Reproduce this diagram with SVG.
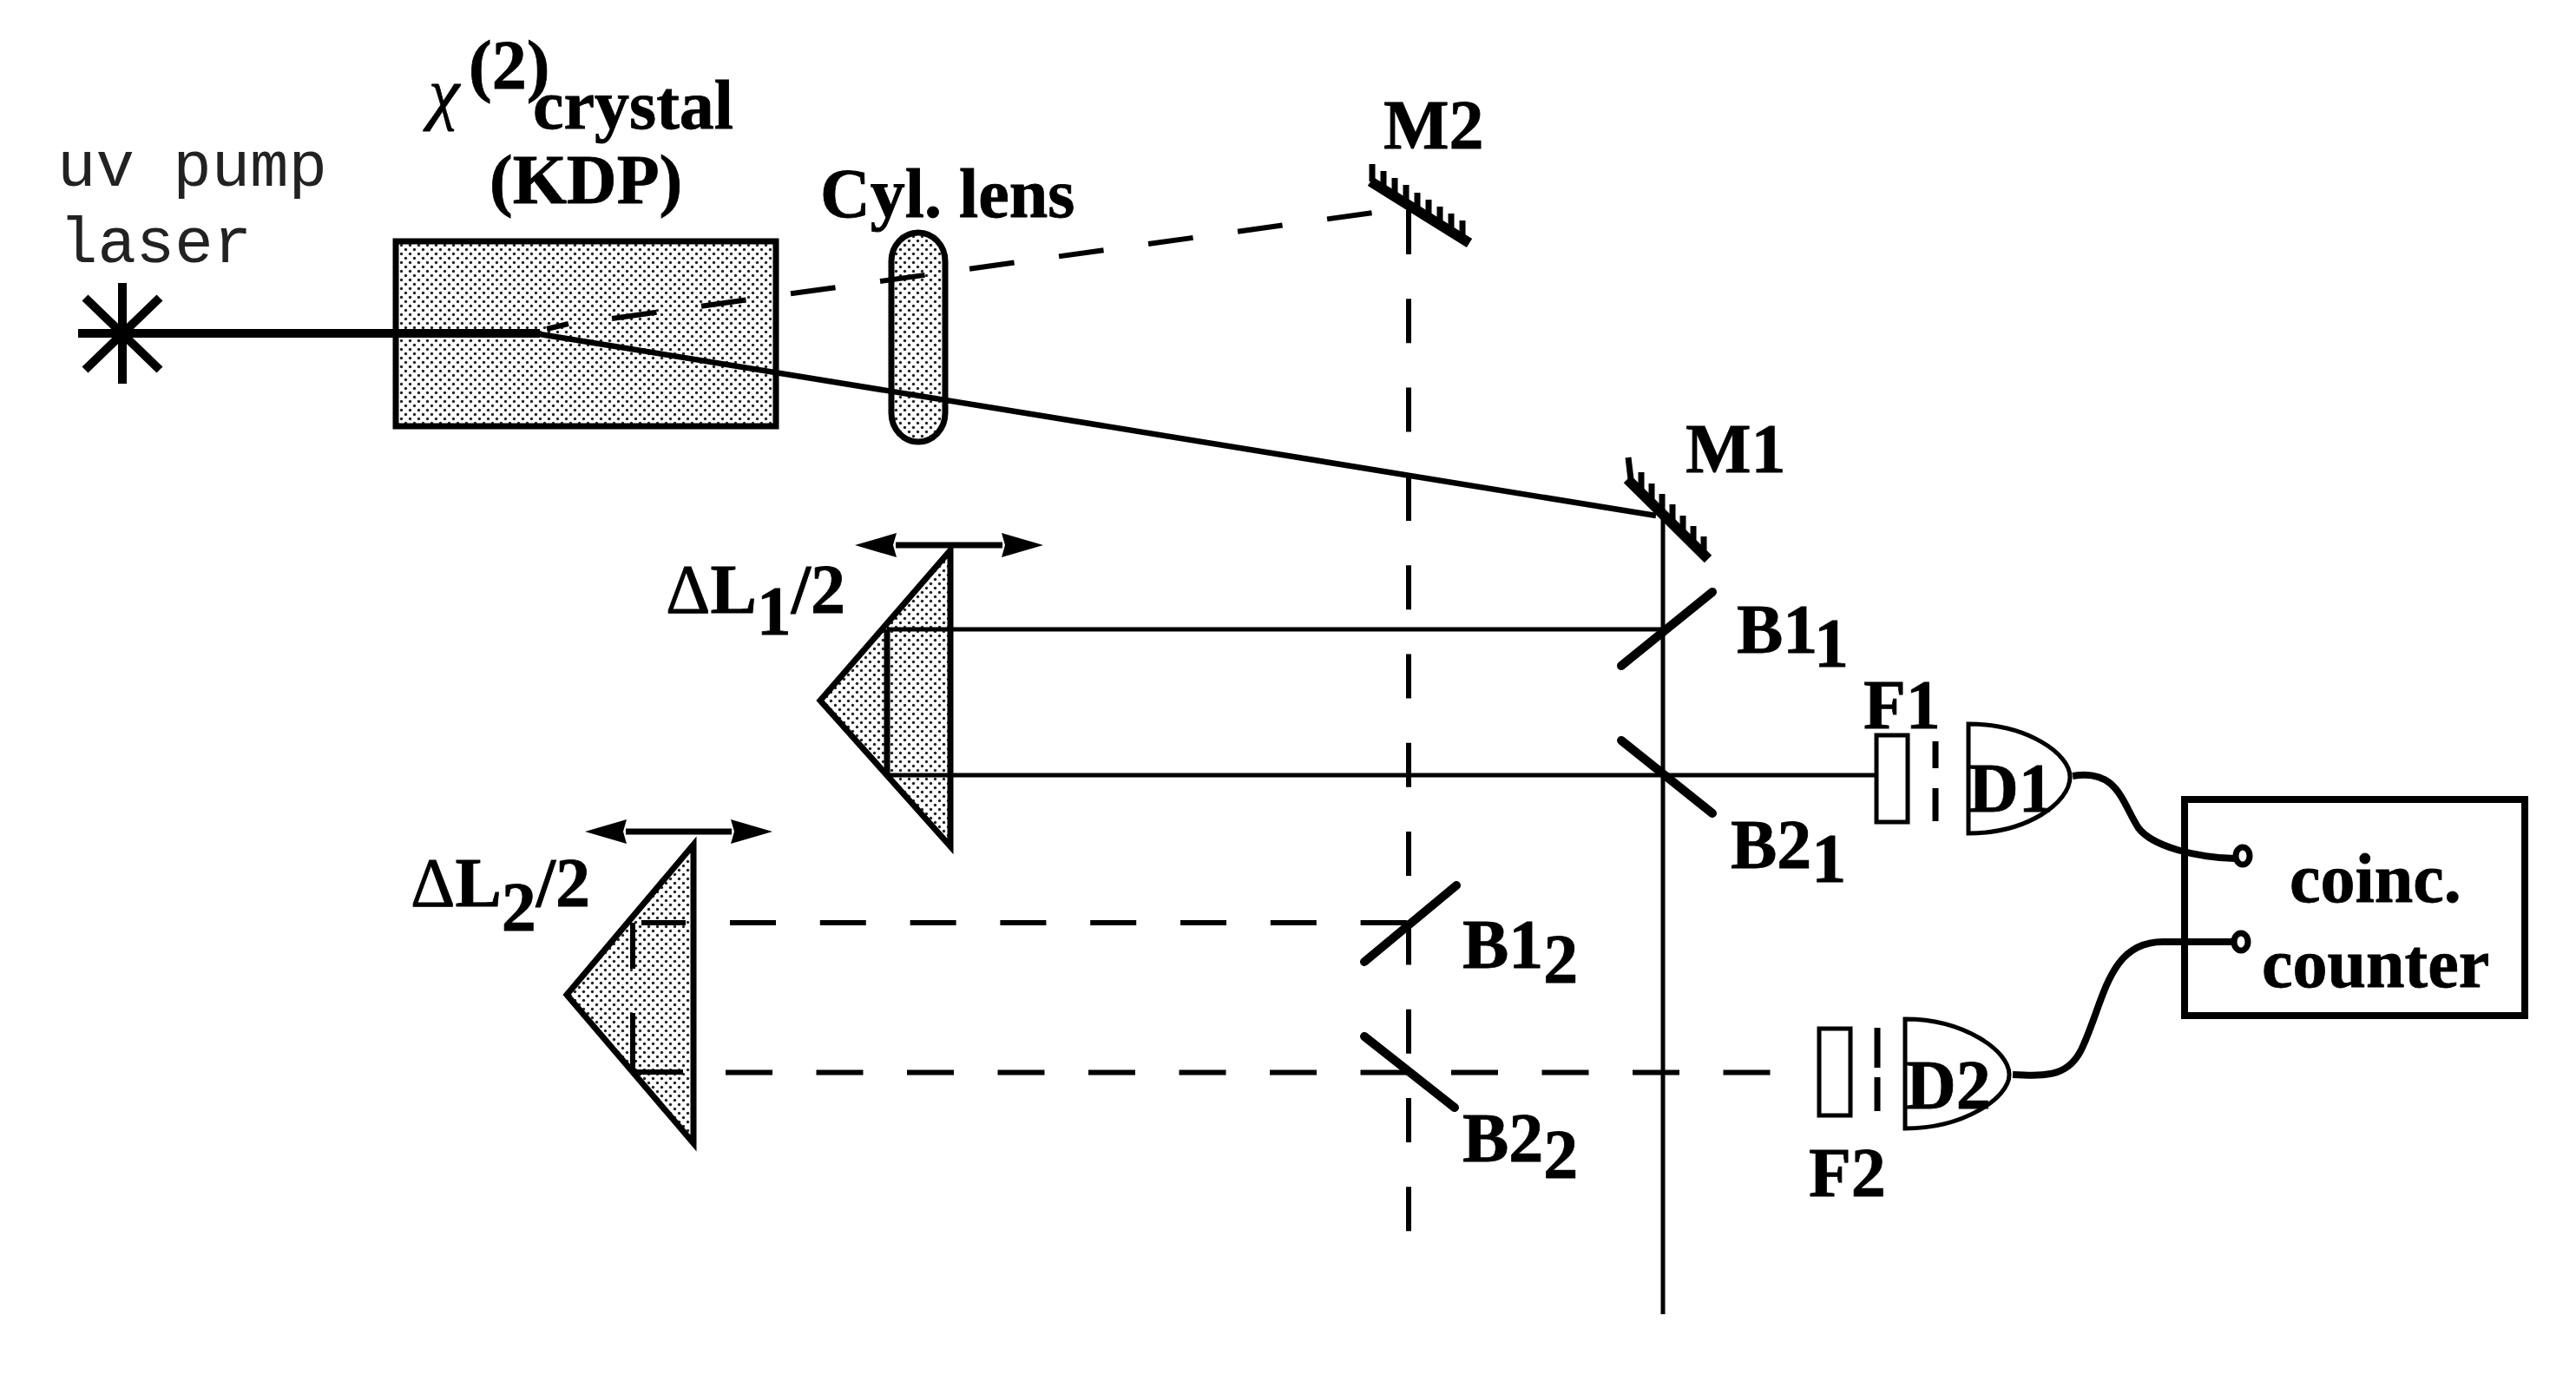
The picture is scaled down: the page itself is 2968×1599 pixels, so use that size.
<svg xmlns="http://www.w3.org/2000/svg" width="2968" height="1599" viewBox="0 0 2968 1599">
<style>
.t{font-family:"Liberation Serif","Times New Roman",serif;font-weight:bold;font-size:80px;fill:#000;stroke:#000;stroke-width:.8}
.g{font-weight:normal}
.m{font-family:"Liberation Mono","Courier New",monospace;font-size:74px;fill:#222}
.s{fill:url(#dots);stroke:#000;stroke-width:7}
.w{fill:#fff;stroke:#000;stroke-width:5}
.bs{stroke:#000;stroke-width:10;stroke-linecap:round;fill:none}
.mir{stroke:#000;stroke-width:12;fill:none}
.tick{stroke:#000;stroke-width:7;fill:none}
.b{stroke:#000;stroke-width:5;fill:none}
.wire{stroke:#000;stroke-width:8;fill:none}
.ring{fill:#fff;stroke:#000;stroke-width:7}
</style>
<defs>
<pattern id="dots" width="10" height="10" patternUnits="userSpaceOnUse">
<rect width="10" height="10" fill="#fff"/>
<circle cx="2.500" cy="2.500" r="1.700" fill="#222"/>
<circle cx="7.500" cy="7.500" r="1.700" fill="#222"/>
</pattern>
<marker id="ah" markerUnits="userSpaceOnUse" markerWidth="48" markerHeight="28" refX="1" refY="14" orient="auto-start-reverse">
<path d="M0 0L48 14L0 28L4 14Z" fill="#000"/>
</marker>
</defs>
<rect width="2968" height="1599" fill="#fff"/>

<g id="laser">
<path d="M141 326V442M90 384H192M98 343L184 426M184 343L98 426" stroke="#000" stroke-width="10" fill="none"/>
<text class="m" x="66" y="214">uv pump</text>
<text class="m" x="68" y="302">laser</text>
</g>
<g id="crystal">
<rect class="s" x="456" y="278" width="438" height="213"/>
<text class="t g" x="494" y="134" font-size="102" font-style="italic">χ</text>
<text class="t" x="540" y="102" font-size="60">(2)</text>
<text class="t" x="614" y="148" font-size="81">crystal</text>
<text class="t" x="564" y="234" font-size="80">(KDP)</text>
</g>
<g id="lens">
<rect class="s" x="1027" y="268" width="62" height="241" rx="31" ry="33"/>
<text class="t" x="945" y="250" font-size="84">Cyl. lens</text>
</g>
<g id="m2">
<path class="mir" d="M1579 209L1693 280"/>
<path class="tick" d="M1581 209V189M1594 217V197M1607 225V205M1620 233V213M1633 242V222M1646 250V230M1659 258V238M1672 266V246M1685 274V254"/>
<text class="t" x="1594" y="171" font-size="78">M2</text>
</g>
<g id="m1">
<path class="mir" d="M1875 552L1968 644"/>
<path class="tick" d="M1879 552L1876 527M1891 564V544M1903 577V557M1915 589V569M1927 601V581M1939 614V594M1951 626V606M1963 638V618"/>
<text class="t" x="1942" y="544" font-size="77">M1</text>
</g>
<g id="prism1">
<path class="s" d="M945 807L1095 634V975Z"/>
<text class="t" x="767" y="706"><tspan class="g">Δ</tspan>L<tspan dy="25">1</tspan><tspan dy="-25">/2</tspan></text>
</g>
<g id="prism2">
<path class="s" d="M653 1146L799 973V1317Z"/>
<text class="t" x="473" y="1044"><tspan class="g">Δ</tspan>L<tspan dy="28">2</tspan><tspan dy="-28">/2</tspan></text>
</g>
<g id="b11">
<path class="bs" d="M1973 682L1868 767"/>
<text class="t" x="2001" y="752" font-size="80">B1<tspan dy="16">1</tspan></text>
</g>
<g id="b21">
<path class="bs" d="M1868 853L1973 937"/>
<text class="t" x="1994" y="1000" font-size="80">B2<tspan dy="16">1</tspan></text>
</g>
<g id="b12">
<path class="bs" d="M1678 1020L1572 1108"/>
<text class="t" x="1685" y="1115" font-size="79">B1<tspan dy="17">2</tspan></text>
</g>
<g id="b22">
<path class="bs" d="M1572 1194L1676 1276"/>
<text class="t" x="1685" y="1338" font-size="79">B2<tspan dy="19">2</tspan></text>
</g>
<g id="f1">
<rect class="w" x="2162" y="847" width="36" height="100"/>
<path class="b" style="stroke-width:7" d="M2230 854V885M2230 908V946"/>
<text class="t" x="2147" y="839" font-size="72">F1</text>
</g>
<g id="d1">
<path class="w" d="M2268 834C2335 834 2385 868 2385 895C2385 925 2335 960 2268 960Z"/>
<text class="t" x="2268" y="935" font-size="70">D1</text>
</g>
<g id="f2">
<rect class="w" x="2096" y="1185" width="36" height="100"/>
<path class="b" style="stroke-width:7" d="M2163 1184V1230M2163 1241V1280"/>
<text class="t" x="2084" y="1378" font-size="76">F2</text>
</g>
<g id="d2">
<path class="w" d="M2195 1174C2262 1174 2315 1210 2315 1238C2315 1265 2262 1300 2195 1300Z"/>
<text class="t" x="2196" y="1277" font-size="78">D2</text>
</g>
<g id="counter">
<rect x="2517" y="921" width="392" height="249" fill="#fff" stroke="#000" stroke-width="8"/>
<text class="t" x="2638" y="1039" font-size="83">coinc.</text>
<text class="t" x="2606" y="1137" font-size="84">counter</text>
</g>

<g id="connectors">
<path d="M90 384H622" stroke="#000" stroke-width="10" fill="none"/>
<path d="M622 385L1908 594" stroke="#000" stroke-width="6.500" fill="none"/>
<path d="M630 379L655 373" class="b" style="stroke-width:6"/>
<path d="M705 367L1582 245" class="b" style="stroke-width:6;stroke-dasharray:52 52"/>
<path d="M1623 242V1419" class="b" style="stroke-width:6;stroke-dasharray:51 51.300"/>
<path d="M1916 594V1514" class="b"/>
<path d="M1022 725H1916M1022 893H2160" class="b"/>
<path d="M1022 725V891" class="b" style="stroke-width:7"/>
<path d="M1032 628H1155" class="b" style="stroke-width:7" marker-start="url(#ah)" marker-end="url(#ah)"/>
<path d="M721 958H843" class="b" style="stroke-width:7" marker-start="url(#ah)" marker-end="url(#ah)"/>
<path d="M739 1063H790M730 1235H787M729 1063V1116M729 1167V1233" class="b" style="stroke-width:6"/>
<path d="M841 1063H1625" class="b" style="stroke-width:6;stroke-dasharray:53 50.800"/>
<path d="M836 1235.500H2041" class="b" style="stroke-width:6;stroke-dasharray:54 50.500"/>
<path d="M2388 894C2440 885 2445 925 2464 954C2480 975 2530 988 2575 989" class="wire"/>
<path d="M2319 1238C2360 1240 2385 1240 2400 1205C2425 1150 2430 1085 2492 1085H2575" class="wire"/>
<ellipse class="ring" cx="2584" cy="986" rx="8" ry="10"/>
<ellipse class="ring" cx="2582" cy="1085" rx="8" ry="10"/>
</g>
</svg>
